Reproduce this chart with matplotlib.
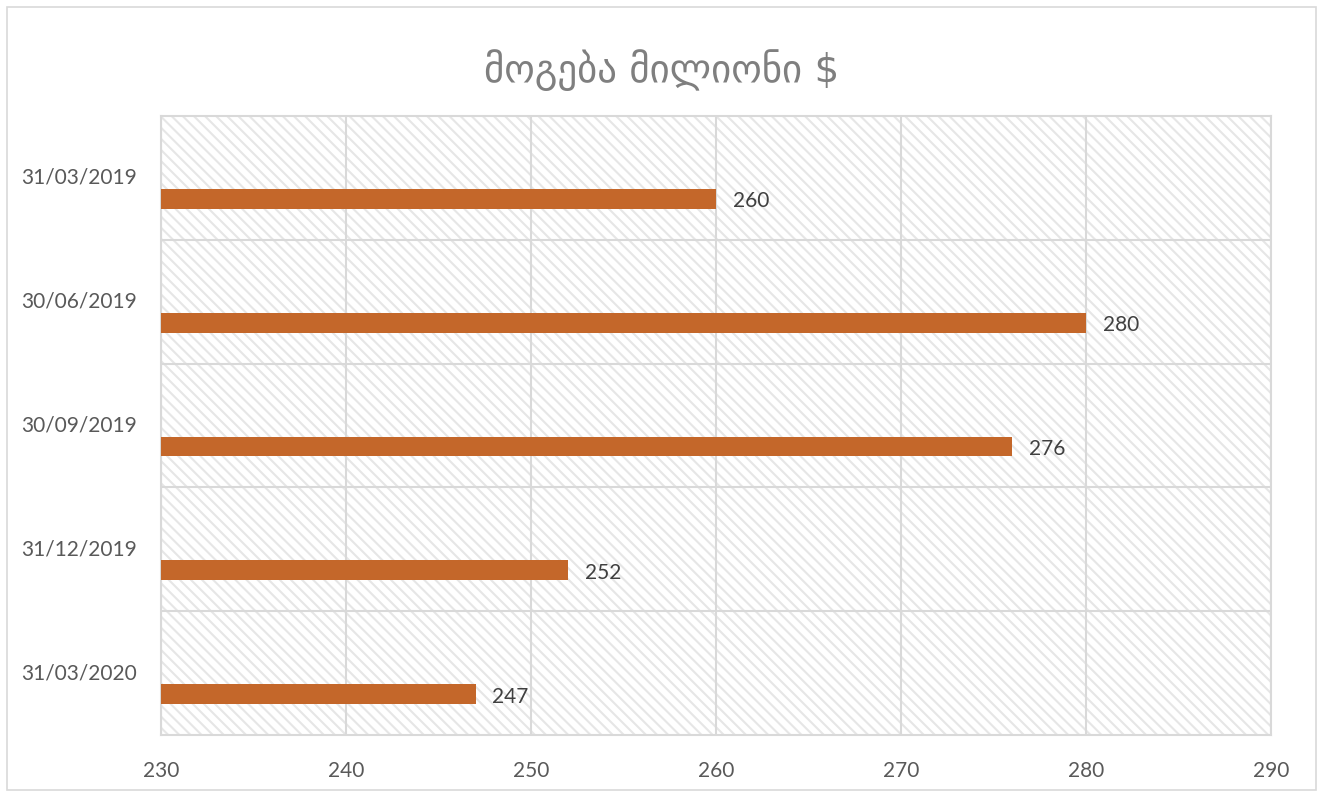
import matplotlib.pyplot as plt
from matplotlib.patches import Rectangle

dates = ['31/03/2019', '30/06/2019', '30/09/2019', '31/12/2019', '31/03/2020']
profit = [260, 280, 276, 252, 247]
x_ticks = [230, 240, 250, 260, 270, 280, 290]

bar_color = '#c4672a'
grid_color = '#d9d9d9'
text_color = '#595959'

plt.rcParams['font.family'] = ['Lato', 'DejaVu Sans']
plt.rcParams['hatch.linewidth'] = 1.5

fig = plt.figure(figsize=(13.23, 7.96), dpi=100)
ax = fig.add_axes([161 / 1323, 1 - 735 / 796, 1110 / 1323, 619 / 796])

# light frame around the whole chart
fig.patches.append(Rectangle((7 / 1323, 6 / 796), 1309 / 1323, 783 / 796,
                             transform=fig.transFigure, fill=False,
                             edgecolor='#d9d9d9', linewidth=1.2))

# hatched plot area
ax.add_patch(Rectangle((0, 0), 1, 1, transform=ax.transAxes, facecolor='none',
                       edgecolor='#e6e6e6', linewidth=0, hatch='\\\\\\', zorder=0))

positions = list(range(len(dates)))
# bars sit in the lower part of each band
ax.barh([p + 0.17 for p in positions], profit, height=0.16, left=0,
        color=bar_color, zorder=3)
for p, v in zip(positions, profit):
    ax.text(v + 0.9, p + 0.19, str(v), va='center', ha='left',
            fontsize=15, color='#404040', zorder=4)

ax.set_xlim(230, 290)
ax.set_ylim(len(dates) - 0.5, -0.5)
ax.set_xticks(x_ticks)
ax.set_yticks(positions)
ax.set_yticklabels(dates)
ax.set_yticks([p + 0.5 for p in positions[:-1]], minor=True)

ax.grid(axis='x', which='major', color=grid_color, linewidth=1.5, zorder=1)
ax.grid(axis='y', which='minor', color=grid_color, linewidth=1.5, zorder=1)
ax.set_axisbelow(True)

for s in ax.spines.values():
    s.set_color(grid_color)
    s.set_linewidth(1.5)

ax.tick_params(axis='both', which='both', length=0, labelsize=15, labelcolor=text_color)
ax.tick_params(axis='x', pad=19)
ax.tick_params(axis='y', pad=17)
for lab in ax.get_yticklabels():
    lab.set_verticalalignment('center')

fig.text(0.5, 1 - 70 / 796, 'მოგება მილიონი $', ha='center', va='center',
         fontsize=28, color='#7f7f7f', family=['DejaVu Sans'])

fig.savefig('out.png', dpi=100)
